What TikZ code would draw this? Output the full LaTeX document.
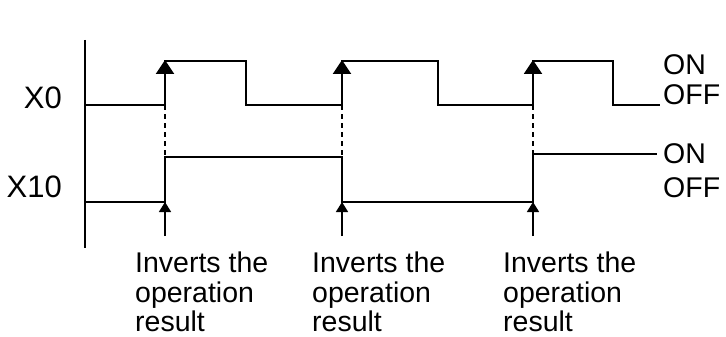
\documentclass[tikz,border=0pt]{standalone}
\usepackage{fontspec}
\setmainfont{Liberation Sans}
\usetikzlibrary{arrows.meta}

\begin{document}
\begin{tikzpicture}[
  x=1pt, y=-1pt,
  signal/.style={line width=2pt},
  guide/.style={line width=1.6pt, dash pattern=on 5pt off 4pt},
  bigarr/.style={-{Triangle[length=14pt, width=18pt]}, line width=2pt},
  smallarr/.style={-{Triangle[length=10pt, width=12pt]}, line width=1.6pt},
  lbl/.style={inner sep=0pt, font=\fontsize{28.5}{29.5}\selectfont},
  signame/.style={inner sep=0pt, font=\fontsize{31}{33}\selectfont, anchor=base east},
  note/.style={lbl, align=left, anchor=north west}
]
\useasboundingbox (0,0) rectangle (726,337);

% axis and signal names
\draw[signal] (85,40) -- (85,248);
\node[signame] (x0)  at (62,108) {X0};
\node[signame] (x10) at (62,197) {X10};

% waveforms
\draw[signal] (85,105) -- (165,105) -- (165,61) -- (246,61) -- (246,105)
  -- (342,105) -- (342,61) -- (438,61) -- (438,105)
  -- (533,105) -- (533,61) -- (613,61) -- (613,105) -- (660,105);
\draw[signal] (85,202) -- (165,202) -- (165,157) -- (342,157) -- (342,202)
  -- (533,202) -- (533,154) -- (657,154);

\node[lbl, anchor=base west] (on0)   at (663,75)  {ON};
\node[lbl, anchor=base west] (off0)  at (663,105) {OFF};
\node[lbl, anchor=base west] (on10)  at (663,163) {ON};
\node[lbl, anchor=base west] (off10) at (663,197) {OFF};

% rising edges of X0
\foreach \i/\ex/\tx in {1/165/135, 2/342/312, 3/533/503} {
  \coordinate (rise\i) at (\ex,105);
  \coordinate (peak\i) at (\ex,60);
  \coordinate (flip\i) at (\ex,156);
  \coordinate (low\i)  at (\ex,202);
  \coordinate (foot\i) at (\ex,236);
  \node[note] (inv\i) at (\tx,252) {Inverts the\\operation\\result};
  \draw[bigarr] (rise\i) -- (peak\i);
  \draw[guide] (rise\i) -- (flip\i);
  \draw[smallarr] (foot\i) -- (low\i);
}
\end{tikzpicture}
\end{document}
